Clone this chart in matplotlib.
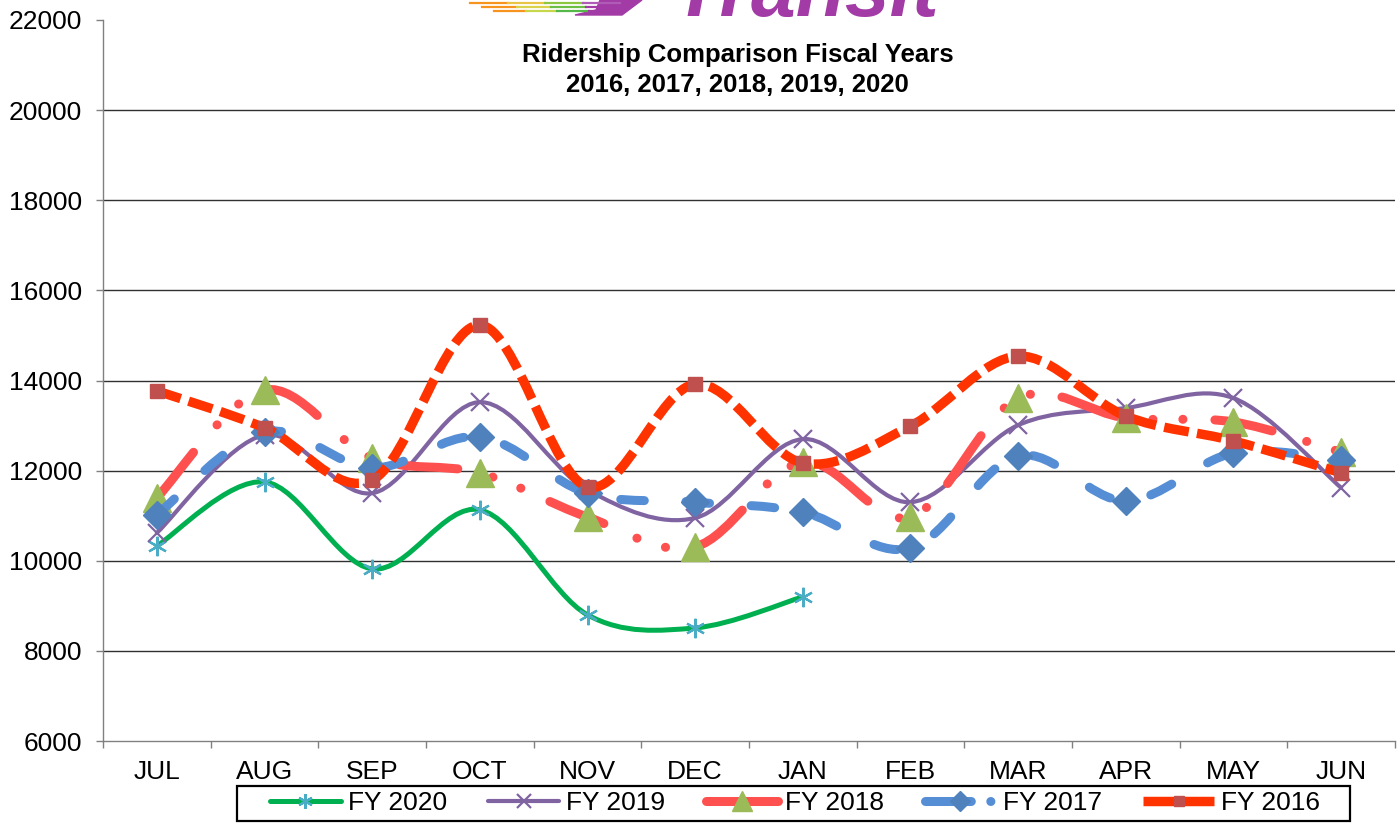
import numpy as np
import matplotlib
matplotlib.use('Agg')
import matplotlib.pyplot as plt
from matplotlib.path import Path
from matplotlib.patches import PathPatch, Rectangle, Polygon
from matplotlib.lines import Line2D

plt.rcParams['font.family'] = ['Liberation Sans', 'DejaVu Sans']
plt.rcParams['lines.scale_dashes'] = False

months = ['JUL', 'AUG', 'SEP', 'OCT', 'NOV', 'DEC', 'JAN', 'FEB', 'MAR', 'APR', 'MAY', 'JUN']

fy2020 = [10330, 11750, 9820, 11130, 8800, 8510, 9200]
fy2019 = [10620, 12790, 11500, 13520, 11570, 10950, 12700, 11300, 13010, 13390, 13610, 11620]
fy2018 = [11400, 13790, 12280, 11950, 10970, 10310, 12190, 10970, 13610, 13170, 13080, 12410]
fy2017 = [11020, 12860, 12060, 12750, 11500, 11300, 11080, 10280, 12330, 11330, 12390, 12240]
fy2016 = [13770, 12950, 11790, 15230, 11640, 13920, 12170, 12990, 14540, 13210, 12660, 11950]


def smooth_path(vals):
    # excel style smoothed line: bezier segments, catmull-rom control points
    y = np.asarray(vals, dtype=float)
    x = np.arange(len(y), dtype=float)
    pts = np.column_stack([x, y])
    verts = [pts[0]]
    codes = [Path.MOVETO]
    n = len(pts)
    for i in range(n - 1):
        p0 = pts[max(i - 1, 0)]
        p1 = pts[i]
        p2 = pts[i + 1]
        p3 = pts[min(i + 2, n - 1)]
        c1 = p1 + (p2 - p0) / 6.0
        c2 = p2 - (p3 - p1) / 6.0
        verts += [c1, c2, p2]
        codes += [Path.CURVE4] * 3
    return Path(np.array(verts), codes)


series = [
    # label, data, line colour, lw, dashes, cap, marker, msize, marker colour, mew
    ('FY 2020', fy2020, '#00B050', 3.6, None, 'round', (6, 2, 0), 14, '#4BACC6', 1.6),
    ('FY 2019', fy2019, '#8064A2', 3.0, None, 'round', 'x', 13, '#8064A2', 1.6),
    ('FY 2018', fy2018, '#FF5050', 6.5, (0, (42, 26, 0.1, 21.5, 0.1, 23)), 'round', '^', 20, '#9BBB59', 1),
    ('FY 2017', fy2017, '#558ED5', 6.5, (0, (17, 30)), 'round', 'D', 14, '#4F81BD', 1),
    ('FY 2016', fy2016, '#FF3300', 6.8, (0, (18, 6)), 'butt', 's', 10.5, '#C0504D', 1),
]

fig = plt.figure(figsize=(14, 8.23), dpi=100)
ax = fig.add_axes([0.0736, 0.0996, 0.9228, 0.8761])

handles = []
for k, (lab, vals, col, lw, ls, cap, mk, ms, mcol, mew) in enumerate(series):
    patch = PathPatch(smooth_path(vals), fill=False, edgecolor=col, lw=lw,
                      linestyle=ls if ls else '-', capstyle=cap, joinstyle='round',
                      zorder=3 + k)
    ax.add_patch(patch)
    ax.plot(np.arange(len(vals)), vals, linestyle='none', marker=mk, ms=ms,
            color=mcol, mec=mcol, mew=mew, zorder=3.5 + k)
    hls = (0, (33, 14, 0.1, 30)) if lab == 'FY 2017' else '-'
    h = Line2D([], [], color=col, lw=lw, linestyle=hls, marker=mk, ms=ms * 0.75,
               mfc=mcol, mec=mcol, mew=mew, solid_capstyle=cap, dash_capstyle='round')
    handles.append((h, lab))

ax.set_xlim(-0.5, 11.5)
ax.set_ylim(6000, 22000)
ax.set_yticks(np.arange(6000, 22001, 2000))
ax.set_xticks(np.arange(12))
ax.set_xticklabels(months)
ax.set_xticks(np.arange(-0.5, 12, 1), minor=True)
ax.tick_params(axis='x', which='major', length=0, pad=14, labelsize=19)
ax.tick_params(axis='x', which='minor', length=5, width=1, color='#808080', direction='out')
ax.tick_params(axis='y', length=5, width=1, color='#808080', pad=10, labelsize=19)

for y in range(8000, 20001, 2000):
    ax.axhline(y, color='#303030', lw=1.0, zorder=1)

for s in ['top', 'right']:
    ax.spines[s].set_visible(False)
for s in ['left', 'bottom']:
    ax.spines[s].set_color('#808080')
    ax.spines[s].set_linewidth(1.0)

fig.text(0.527, 1 - 70 / 823, 'Ridership Comparison Fiscal Years\n2016, 2017, 2018, 2019, 2020',
         ha='center', va='center', fontsize=18.5, fontweight='bold', linespacing=1.3)

# logo, cut off at the top of the picture
fig.text(806 / 1400, 1 - 16 / 823, 'Transit', ha='center', va='baseline', fontsize=58,
         fontweight='bold', fontstyle='italic', color='#A33BA6')
stripe_cols = [['#F7941D', '#E8C547', '#8DC63F', '#B05BB5'],
               ['#F7941D', '#D9D24A', '#6CBE45', '#A33BA6'],
               ['#F7941D', '#C8D64B', '#55B848', '#A33BA6']]
for j, cols in enumerate(stripe_cols):
    yy = 1 - (3 + 4 * j) / 823
    x0 = (470 + 12 * j) / 1400
    seg = (620 - 470 - 12 * j) / 1400 / len(cols)
    for c_i, c in enumerate(cols):
        fig.add_artist(Line2D([x0 + c_i * seg, x0 + (c_i + 1) * seg], [yy, yy],
                              color=c, lw=1.6, transform=fig.transFigure))
fig.add_artist(Polygon([[600 / 1400, 1], [642 / 1400, 1], [622 / 1400, 1 - 15 / 823],
                        [575 / 1400, 1 - 15 / 823], [596 / 1400, 1 - 10 / 823]],
                       closed=True, color='#A33BA6', transform=fig.transFigure))

fig.add_artist(Rectangle((237 / 1400, 2 / 823), (1350 - 237) / 1400, 35 / 823,
                         fill=False, edgecolor='black', lw=1.6, transform=fig.transFigure))
fig.legend([h for h, _ in handles], [l for _, l in handles], loc='center',
           bbox_to_anchor=(795 / 1400, 19.5 / 823), ncol=5, frameon=False, fontsize=19,
           handlelength=2.7, handletextpad=0.27, columnspacing=1.55, borderpad=0.1)

fig.savefig('out.png', dpi=100)
